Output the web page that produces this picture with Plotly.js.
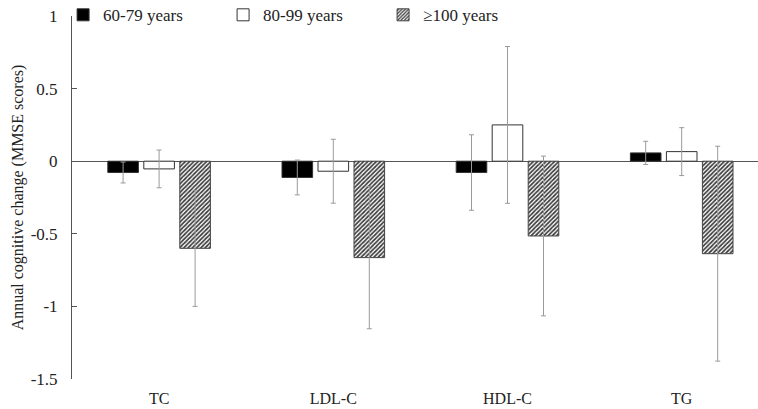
<!DOCTYPE html>
<html>
<head>
<meta charset="utf-8">
<script src="https://cdn.plot.ly/plotly-3.0.1.min.js"></script>
<style>html,body{margin:0;padding:0;background:#fff;}#chart{width:758px;height:409px;}</style>
</head>
<body>
<div id="chart"></div>
<script>
const categories = ["TC", "LDL-C", "HDL-C", "TG"];
const seriesNames = ["60-79 years", "80-99 years", "\u2265100 years"];
const values6079 = [-0.078, -0.112, -0.078, 0.057];
const errors6079 = [0.072, 0.12, 0.26, 0.08];
const values8099 = [-0.053, -0.069, 0.25, 0.066];
const errors8099 = [0.13, 0.22, 0.54, 0.165];
const values100 = [-0.60, -0.664, -0.515, -0.637];
const errors100 = [0.40, 0.49, 0.55, 0.74];
const yTickVals = [-1.5, -1, -0.5, 0, 0.5, 1];
const yTickText = ["-1.5", "-1", "-0.5", "0", "0.5", "1"];

const FONT = "Liberation Serif, Times New Roman, serif";
const errStyle = (arr) => ({type: "data", array: arr, visible: true, color: "#9a9a9a", thickness: 1, width: 2.5});

const traces = [
  {type: "bar", name: seriesNames[0], x: categories, y: values6079, error_y: errStyle(errors6079),
   marker: {color: "#000000", line: {color: "#333", width: 1}}},
  {type: "bar", name: seriesNames[1], x: categories, y: values8099, error_y: errStyle(errors8099),
   marker: {color: "#ffffff", line: {color: "#333", width: 1}}},
  {type: "bar", name: seriesNames[2], x: categories, y: values100, error_y: errStyle(errors100),
   marker: {color: "#ffffff", line: {color: "#444", width: 1},
            pattern: {shape: "/", fgcolor: "#3a3a3a", bgcolor: "#ffffff", size: 3, solidity: 0.55}}}
];

const layout = {
  width: 758, height: 409,
  margin: {l: 72, r: 0, t: 16, b: 30, autoexpand: false},
  paper_bgcolor: "#fff", plot_bgcolor: "#fff",
  font: {family: FONT, size: 16, color: "#222"},
  barmode: "group", bargap: 0.38, bargroupgap: 0.15,
  showlegend: true,
  legend: {orientation: "h", x: -0.013, xanchor: "left", y: 1.002, yanchor: "middle",
           font: {family: FONT, size: 17, color: "#222"}, bgcolor: "rgba(0,0,0,0)",
           entrywidth: 115, entrywidthmode: "pixels", traceorder: "normal"},
  xaxis: {type: "category", range: [-0.5, 3.438], showline: false, showgrid: false, zeroline: false,
          ticks: "", tickfont: {family: FONT, size: 16, color: "#222"}, ticklabelstandoff: 8, fixedrange: true},
  yaxis: {range: [-1.5, 1], tickvals: yTickVals, ticktext: yTickText, showgrid: false,
          showline: true, linecolor: "#555", linewidth: 1, ticks: "inside", ticklen: 5, tickcolor: "#555",
          zeroline: true, zerolinecolor: "#555", zerolinewidth: 1,
          tickfont: {family: FONT, size: 17, color: "#222"}, ticklabelstandoff: 10,
          title: {text: "Annual cognitive change (MMSE scores)", font: {family: FONT, size: 16, color: "#222"}, standoff: 3},
          automargin: false, fixedrange: true}
};

Plotly.newPlot("chart", traces, layout, {displayModeBar: false, staticPlot: true});
</script>
</body>
</html>
